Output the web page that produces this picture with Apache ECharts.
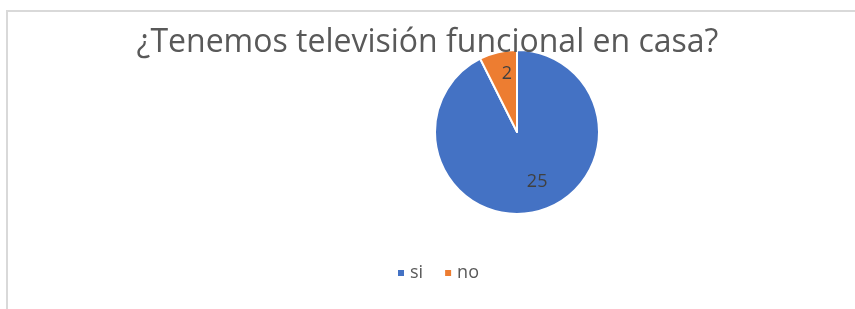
<!DOCTYPE html>
<html>
<head>
<meta charset="utf-8">
<script src="https://cdn.jsdelivr.net/npm/echarts@6/dist/echarts.min.js"></script>
<style>
  html, body { margin: 0; padding: 0; background: #fff; }
  #chart { width: 855px; height: 309px; }
</style>
</head>
<body>
<div id="chart"></div>
<script>
// datos de la encuesta
var categorias = ['si', 'no'];
var valores = [25, 2];
var colores = ['#4472C4', '#ED7D31'];
var titulo = '¿Tenemos televisión funcional en casa?';

var myChart = echarts.init(document.getElementById('chart'));

var datos = categorias.map(function (c, i) {
  return { name: c, value: valores[i], itemStyle: { color: colores[i] } };
});
// ajuste de etiquetas (mas hacia afuera que 'inside')
datos[0].label = { offset: [10, 7] };
datos[1].label = { offset: [0, -15] };

myChart.setOption({
  backgroundColor: '#fff',
  title: {
    text: titulo,
    left: 'center',
    top: 22,
    textStyle: { fontFamily: 'Open Sans', fontSize: 32, fontWeight: 'normal', color: '#595959' }
  },
  graphic: [{
    type: 'rect',
    shape: { x: 7, y: 11, width: 900, height: 400 },
    style: { fill: 'none', stroke: '#d9d9d9', lineWidth: 2 },
    silent: true
  }],
  legend: {
    data: categorias,
    left: 391,
    top: 259,
    icon: 'rect',
    itemWidth: 8,
    itemHeight: 8,
    itemGap: 20,
    textStyle: { fontFamily: 'Open Sans', fontSize: 18, color: '#595959' }
  },
  series: [{
    type: 'pie',
    center: [517, 132],
    radius: 82,
    startAngle: 90,
    clockwise: true,
    animation: false,
    itemStyle: { borderColor: '#fff', borderWidth: 2 },
    label: {
      show: true,
      position: 'inside',
      formatter: '{c}',
      fontFamily: 'Open Sans',
      fontSize: 18,
      color: '#404040'
    },
    labelLine: { show: false },
    data: datos
  }]
});
</script>
</body>
</html>
